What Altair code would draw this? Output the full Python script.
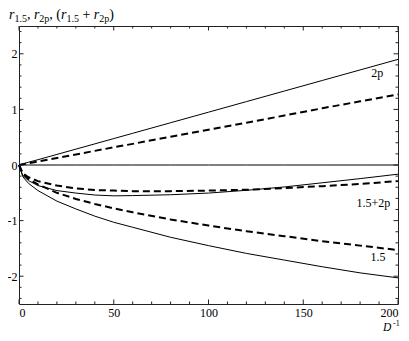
import altair as alt
import pandas as pd

# ---- data ----
D = [0, 2, 5, 10, 20, 30, 40, 50, 60, 80, 100, 120, 140, 160, 180, 200]
r15_solid = [0, -0.21, -0.33, -0.46, -0.65, -0.79, -0.92, -1.03, -1.12, -1.30, -1.45, -1.59, -1.71, -1.83, -1.94, -2.03]
r15_dashed = [0, -0.16, -0.25, -0.35, -0.50, -0.61, -0.70, -0.78, -0.85, -0.98, -1.09, -1.19, -1.28, -1.37, -1.45, -1.53]
r2p_solid = [0, 0.02, 0.05, 0.095, 0.19, 0.285, 0.38, 0.475, 0.57, 0.76, 0.95, 1.14, 1.33, 1.52, 1.71, 1.90]
r2p_dashed = [0, 0.013, 0.032, 0.064, 0.127, 0.19, 0.254, 0.318, 0.38, 0.51, 0.635, 0.76, 0.89, 1.02, 1.145, 1.27]
sum_solid = [0, -0.19, -0.28, -0.37, -0.46, -0.505, -0.54, -0.555, -0.55, -0.535, -0.505, -0.455, -0.395, -0.32, -0.245, -0.165]
sum_dashed = [0, -0.15, -0.22, -0.29, -0.37, -0.42, -0.45, -0.46, -0.47, -0.47, -0.46, -0.445, -0.415, -0.38, -0.34, -0.29]
zero_line = [0] * len(D)

x_labels = [0, 50, 100, 150, 200]
x_minor = [v for v in range(0, 201, 10) if v not in x_labels]
y_labels = [-2, -1, 0, 1, 2]
y_minor = [round(-2.4 + 0.2 * i, 1) for i in range(25)]
y_minor = [v for v in y_minor if v not in y_labels]

curve_labels = ["2p", "1.5+2p", "1.5"]
curve_label_x = [189, 187, 189.5]
curve_label_y = [1.66, -0.69, -1.66]

FONT = "Liberation Serif"
W, H = 379, 278
OX, OY = 19, 26  # page position of the plot's top-left corner

solid_rows = []
for name, vals in [("1.5", r15_solid), ("2p", r2p_solid), ("1.5+2p", sum_solid), ("zero", zero_line)]:
    for d, v in zip(D, vals):
        solid_rows.append({"D": d, "r": v, "series": name})
dashed_rows = []
for name, vals in [("1.5", r15_dashed), ("2p", r2p_dashed), ("1.5+2p", sum_dashed)]:
    for d, v in zip(D, vals):
        dashed_rows.append({"D": d, "r": v, "series": name})
df_solid = pd.DataFrame(solid_rows)
df_dashed = pd.DataFrame(dashed_rows)

xs = alt.Scale(domain=[0, 200], nice=False, zero=False)
ys = alt.Scale(domain=[-2.5, 2.5], nice=False, zero=False)
xaxis = alt.Axis(values=x_labels, domain=False, ticks=False, grid=False, title=None,
                 labelFont=FONT, labelFontSize=12, labelColor="black", labelPadding=3)
yaxis = alt.Axis(values=y_labels, domain=False, ticks=False, grid=False, title=None,
                 labelFont=FONT, labelFontSize=12, labelColor="black", labelPadding=2,
                 labelExpr="'' + datum.value")

X = alt.X("D:Q", scale=xs, axis=xaxis)
Y = alt.Y("r:Q", scale=ys, axis=yaxis)

solid = alt.Chart(df_solid).mark_line(color="black", strokeWidth=1).encode(x=X, y=Y, detail="series:N")
dashed = alt.Chart(df_dashed).mark_line(color="black", strokeWidth=2, strokeDash=[7, 4]).encode(
    x=X, y=Y, detail="series:N")

layers = [solid, dashed]

# frame ticks pointing inward
def xticks(vals, length):
    d = pd.DataFrame({"D": vals})
    bottom = alt.Chart(d).mark_rule(color="#222", strokeWidth=1).encode(
        x=X, y=alt.value(H), y2=alt.value(H - length))
    top = alt.Chart(d).mark_rule(color="#222", strokeWidth=1).encode(
        x=X, y=alt.value(0), y2=alt.value(length))
    return [bottom, top]

def yticks(vals, length):
    d = pd.DataFrame({"r": vals})
    left = alt.Chart(d).mark_rule(color="#222", strokeWidth=1).encode(
        y=Y, x=alt.value(0), x2=alt.value(length))
    right = alt.Chart(d).mark_rule(color="#222", strokeWidth=1).encode(
        y=Y, x=alt.value(W), x2=alt.value(W - length))
    return [left, right]

layers += xticks(x_labels, 4.5) + xticks(x_minor, 2.5) + yticks(y_labels, 4.5) + yticks(y_minor, 2.5)

df_lab = pd.DataFrame({"D": curve_label_x, "r": curve_label_y, "t": curve_labels})
labels = alt.Chart(df_lab).mark_text(font=FONT, fontSize=12, color="black", align="center",
                                     baseline="middle").encode(x=X, y=Y, text="t:N")
layers.append(labels)

# title / axis-label pieces: (text, page x, page baseline y, size, italic)
MS, SS = 14, 10
MB, SB = 19, 22
title_pieces = [
    ("r", 9, MB, MS, True), ("1.5", 14.4, SB, SS, False), (",", 26.9, MB, MS, False),
    ("r", 33.9, MB, MS, True), ("2p", 39.3, SB, SS, False), (",", 49.3, MB, MS, False),
    ("(", 56.3, MB, MS, False), ("r", 61.0, MB, MS, True), ("1.5", 66.4, SB, SS, False),
    ("+", 82.4, MB, MS, False), ("r", 93.8, MB, MS, True), ("2p", 99.2, SB, SS, False),
    (")", 109.2, MB, MS, False),
    ("D", 383, 330.5, 11.5, True), ("-1", 393, 326, 8, False),
]
for txt, px, py, sz, it in title_pieces:
    kw = dict(font=FONT, fontSize=sz, color="black", align="left", baseline="alphabetic", text=txt)
    if it:
        kw["fontStyle"] = "italic"
    layers.append(alt.Chart(pd.DataFrame({"a": [0]})).mark_text(**kw).encode(
        x=alt.value(px - OX), y=alt.value(py - OY)))

chart = alt.layer(*layers).properties(
    width=W, height=H,
    autosize=alt.AutoSizeParams(type="none"),
    padding={"left": OX - 8, "top": OY - 8, "right": 3, "bottom": 333 - OY - H},
).configure_view(stroke="#222", strokeWidth=1)

chart.save("out.html", embed_options={"renderer": "svg", "actions": False})
